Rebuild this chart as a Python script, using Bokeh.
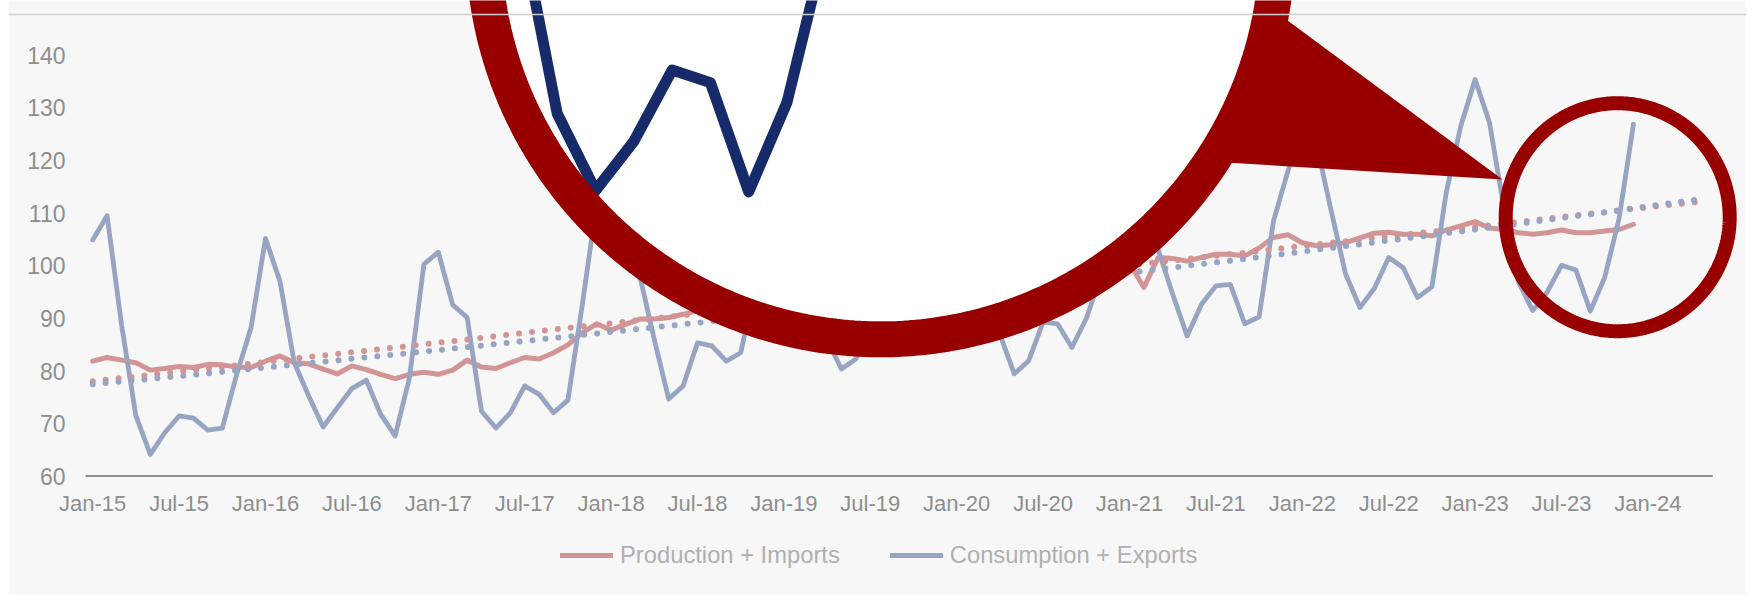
import numpy as np
from bokeh.plotting import figure
from bokeh.models import Range1d, FixedTicker, Span, Legend, LegendItem, Spacer
from bokeh.layouts import row
from bokeh.embed import file_html
from bokeh.resources import INLINE

# ---------------- data ----------------
tick_labels = ["Jan-15", "Jul-15", "Jan-16", "Jul-16", "Jan-17", "Jul-17", "Jan-18", "Jul-18",
               "Jan-19", "Jul-19", "Jan-20", "Jul-20", "Jan-21", "Jul-21", "Jan-22", "Jul-22",
               "Jan-23", "Jul-23", "Jan-24"]
tick_months = [0, 6, 12, 18, 24, 30, 36, 42, 48, 54, 60, 66, 72, 78, 84, 90, 96, 102, 108]

# monthly, Jan-15 .. Dec-23
production_imports = [
    81.9, 82.6, 82.1, 81.6, 80.2, 80.5, 80.9, 80.7, 81.3, 81.2, 80.8, 80.7,
    81.9, 82.9, 81.6, 81.4, 80.4, 79.5, 81.0, 80.3, 79.4, 78.6, 79.4, 79.8,
    79.4, 80.2, 82.1, 80.8, 80.5, 81.6, 82.6, 82.3, 83.5, 85.0, 87.3, 89.0,
    87.8, 88.9, 89.9, 89.9, 90.2, 90.8, 91.5, 92.3, 93.0, 93.8, 94.5, 95.5,
    96.0, 95.5, 96.5, 97.0, 97.5, 97.8, 98.3, 98.8, 98.5, 99.0, 100.0, 100.8,
    101.3, 101.0, 100.2, 98.5, 96.8, 97.2, 97.8, 97.5, 98.2, 99.0, 99.6, 100.4,
    100.5, 95.9, 101.6, 101.4, 100.9, 101.6, 102.2, 102.2, 101.9, 103.4, 105.4, 105.9,
    104.4, 103.8, 104.0, 104.4, 105.3, 106.2, 106.4, 106.0, 106.0, 105.7, 106.8, 107.6,
    108.4, 107.2, 106.9, 106.3, 106.0, 106.3, 106.8, 106.3, 106.3, 106.6, 106.9, 107.9,
]
consumption_exports = [
    104.9, 109.5, 88.9, 71.5, 64.2, 68.3, 71.5, 71.1, 68.8, 69.2, 79.4, 88.3,
    105.2, 97.1, 81.6, 75.3, 69.4, 73.1, 76.7, 78.3, 71.8, 67.7, 78.8, 100.3,
    102.6, 92.6, 90.2, 72.4, 69.2, 72.1, 77.2, 75.6, 72.1, 74.5, 92.6, 112.0,
    125.0, 112.0, 98.0, 86.0, 74.7, 77.2, 85.4, 84.8, 81.9, 83.5, 96.0, 112.0,
    121.0, 114.0, 100.0, 86.0, 80.4, 82.3, 88.0, 89.0, 84.0, 86.0, 99.0, 110.0,
    116.0, 111.0, 99.0, 87.0, 79.5, 82.0, 89.3, 89.0, 84.5, 90.0, 98.0, 106.0,
    99.0, 108.0, 103.0, 94.6, 86.7, 92.7, 96.2, 96.5, 89.0, 90.3, 108.5, 118.0,
    126.0, 123.0, 110.5, 98.5, 92.1, 95.7, 101.6, 99.7, 94.0, 96.0, 114.0, 126.5,
    135.4, 127.2, 111.0, 97.0, 91.5, 95.0, 100.1, 99.2, 91.4, 97.8, 109.0, 126.9,
]
# dotted trend lines, read every 8 months (Jan-15 .. May-24)
trend_months = [0, 8, 16, 24, 32, 40, 48, 56, 64, 72, 80, 88, 96, 104, 112]
production_trend = [78.1, 80.5, 83.0, 85.4, 87.9, 90.3, 92.8, 95.2, 97.6, 100.1, 102.5, 105.0, 107.4, 109.9, 112.3]
consumption_trend = [77.5, 79.6, 81.8, 84.0, 86.3, 88.6, 91.0, 93.5, 96.0, 98.7, 101.3, 104.1, 106.9, 109.8, 112.8]

# months shown magnified in the callout
zoom_first, zoom_last = 98, 106
zoom_anchor_month, zoom_anchor_value = 100, 91.5

# ---------------- layout / style constants ----------------
PINK = "#d29494"
BLUE = "#97a5c2"
NAVY = "#172b6b"
RED = "#980000"
BG = "#f7f7f7"
TICK_COL = "#8e8e8e"
LEG_COL = "#b0b0b0"
FONT = "Liberation Sans"

LEFT_PAD = 8          # white strip left of the chart (page px)
FIG_W = 1738
FIG_H = 595
AXIS_PY = 476         # page px of the value-60 baseline
X0 = 92.2             # page px of first month
DX = 14.4             # px per month
DY = 5.266            # px per unit
YMIN = 60


def px2x(px):
    return (px - X0) / DX


def py2y(py):
    return YMIN + (AXIS_PY - py) / DY


p = figure(width=FIG_W, height=FIG_H,
           x_range=Range1d(px2x(LEFT_PAD), px2x(LEFT_PAD + FIG_W)),
           y_range=Range1d(py2y(FIG_H), py2y(0)),
           output_backend="svg", toolbar_location=None,
           min_border_left=0, min_border_right=0, min_border_top=0, min_border_bottom=0,
           background_fill_color=BG, border_fill_color=BG, outline_line_color=None)
p.grid.visible = False

# y axis
ya = p.yaxis[0]
ya.fixed_location = px2x(70)
ya.ticker = FixedTicker(ticks=list(range(60, 141, 10)))
ya.axis_line_color = None
ya.major_tick_line_color = None
ya.minor_tick_line_color = None
ya.major_tick_out = 0
ya.major_tick_in = 0
ya.major_label_standoff = 5
ya.major_label_text_font = FONT
ya.major_label_text_font_size = "23px"
ya.major_label_text_color = TICK_COL

# x axis
xa = p.xaxis[0]
xa.fixed_location = YMIN
xa.ticker = FixedTicker(ticks=tick_months)
xa.major_label_overrides = {m: lab for m, lab in zip(tick_months, tick_labels)}
xa.axis_line_color = None
xa.major_tick_line_color = None
xa.minor_tick_line_color = None
xa.major_tick_out = 0
xa.major_tick_in = 0
xa.major_label_standoff = 14
xa.major_label_text_font = FONT
xa.major_label_text_font_size = "22px"
xa.major_label_text_color = TICK_COL

# top rule and baseline
p.add_layout(Span(location=py2y(14), dimension="width", line_color="#cfcfcf", line_width=1.5))
n_slots = trend_months[-1] + 1
p.segment(x0=[-0.5], y0=[YMIN + 0.6 / DY], x1=[n_slots - 0.5], y1=[YMIN + 0.6 / DY],
          line_color="#8f8f8f", line_width=2)

months = list(range(len(consumption_exports)))
r_prod = p.line(months, production_imports, line_color=PINK, line_width=5, line_join="round", line_cap="round")
r_cons = p.line(months, consumption_exports, line_color=BLUE, line_width=4.8, line_join="round", line_cap="round")
p.line(trend_months, production_trend, line_color=PINK, line_width=6, line_dash="0 13", line_cap="round")
p.line(trend_months, consumption_trend, line_color=BLUE, line_width=6, line_dash="0 13", line_cap="round")

# ---------------- magnifier callout ----------------
t = np.linspace(0, 2 * np.pi, 400)
BIG_C = (880.0, -58.2)
BIG_R = 397.0
BIG_W = 36
SMALL_C = (1617.2, 216.7)
SMALL_RX, SMALL_RY, SMALL_W = 112.0, 114.0, 14
TIP = np.array([1502.0, 179.0])
BASE_A = np.array([1231.0, 162.3])
BASE_B = np.array([1287.0, 20.0])

big_x = px2x(BIG_C[0] + BIG_R * np.cos(t))
big_y = py2y(BIG_C[1] + BIG_R * np.sin(t))
p.patch(big_x, big_y, fill_color="white", line_color=None)

# magnified copy of the last months of consumption
k = 2.66
anchor_x = px2x(595.0)
anchor_y = py2y(190.0)
zm = np.array(months[zoom_first:zoom_last + 1], dtype=float)
zv = np.array(consumption_exports[zoom_first:zoom_last + 1], dtype=float)
p.line(anchor_x + k * (zm - zoom_anchor_month), anchor_y + k * (zv - zoom_anchor_value),
       line_color=NAVY, line_width=11, line_join="round", line_cap="round")

p.patch(big_x, big_y, fill_color=None, line_color=RED, line_width=BIG_W)


def extend(pt, frm, d):
    v = pt - frm
    return pt + d * v / np.hypot(*v)


A2 = extend(BASE_A, TIP, 22)
B2 = extend(BASE_B, TIP, 22)
tri = np.array([TIP, A2, B2])
p.patch(px2x(tri[:, 0]), py2y(tri[:, 1]), fill_color=RED, line_color=None)

sm_x = px2x(SMALL_C[0] + SMALL_RX * np.cos(t))
sm_y = py2y(SMALL_C[1] + SMALL_RY * np.sin(t))
p.patch(sm_x, sm_y, fill_color=None, line_color=RED, line_width=SMALL_W)

# ---------------- legend ----------------
legend = Legend(items=[LegendItem(label="Production + Imports", renderers=[r_prod]),
                       LegendItem(label="Consumption + Exports", renderers=[r_cons])],
                orientation="horizontal", location=(560 - LEFT_PAD, 26),
                glyph_width=53, glyph_height=20, label_standoff=7, spacing=50,
                padding=0, margin=0, border_line_color=None, background_fill_alpha=0,
                label_text_font=FONT, label_text_font_size="23.75px", label_text_color=LEG_COL)
p.add_layout(legend, "center")

layout = row(Spacer(width=LEFT_PAD, height=FIG_H), p)
open("out.html", "w").write(file_html(layout, INLINE))
